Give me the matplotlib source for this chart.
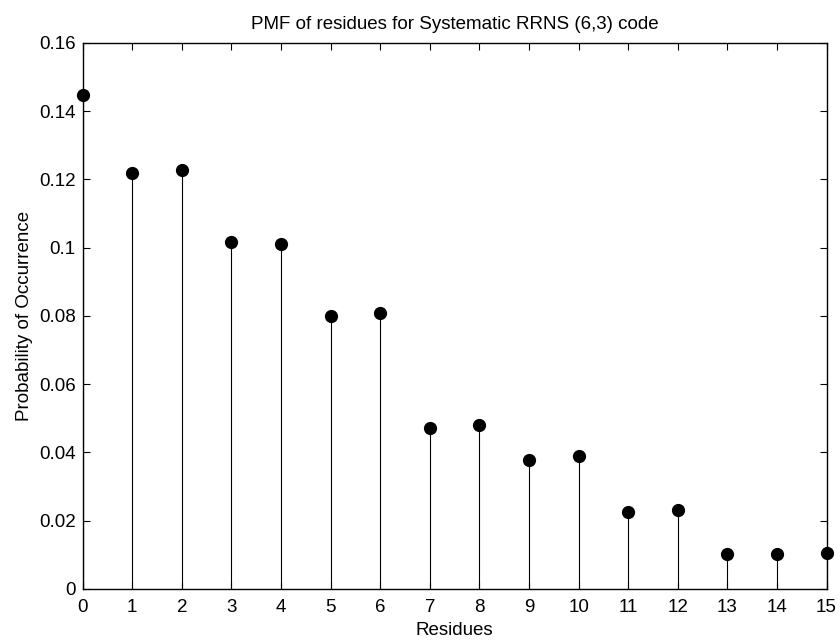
import numpy as np
import matplotlib
matplotlib.use('Agg')
import matplotlib.pyplot as plt

plt.rcParams['font.family'] = ['Liberation Sans', 'DejaVu Sans']

residues = np.arange(16)
pmf = [0.1447, 0.1219, 0.1228, 0.1015, 0.1010, 0.0800, 0.0807, 0.0472,
       0.0479, 0.0377, 0.0388, 0.0224, 0.0232, 0.0103, 0.0101, 0.0105]
x_ticks = list(range(16))
y_ticks = [0, 0.02, 0.04, 0.06, 0.08, 0.1, 0.12, 0.14, 0.16]
y_tick_labels = ['0', '0.02', '0.04', '0.06', '0.08', '0.1', '0.12', '0.14', '0.16']

fig = plt.figure(figsize=(8.4, 6.4), dpi=100)
ax = fig.add_axes([0.0984, 0.080, 0.8856, 0.853])

ax.vlines(residues, 0, pmf, colors='black', linewidth=0.8, zorder=2)
ax.plot(residues, pmf, 'o', color='black', markersize=8.5, clip_on=False, zorder=3)

ax.set_xlim(0, 15)
ax.set_ylim(0, 0.16)
ax.set_xticks(x_ticks)
ax.set_yticks(y_ticks)
ax.set_yticklabels(y_tick_labels)
ax.tick_params(direction='in', top=True, right=True, length=5, width=0.8,
               labelsize=13.5)
ax.tick_params(axis='x', pad=7)
ax.tick_params(axis='y', pad=5)
for s in ax.spines.values():
    s.set_linewidth(1.0)

ax.set_title('PMF of residues for Systematic RRNS (6,3) code', fontsize=13.5, pad=10)
ax.set_xlabel('Residues', fontsize=13.5, labelpad=5)
ax.set_ylabel('Probability of Occurrence', fontsize=13.5, labelpad=4)

fig.savefig('out.png', dpi=100)
